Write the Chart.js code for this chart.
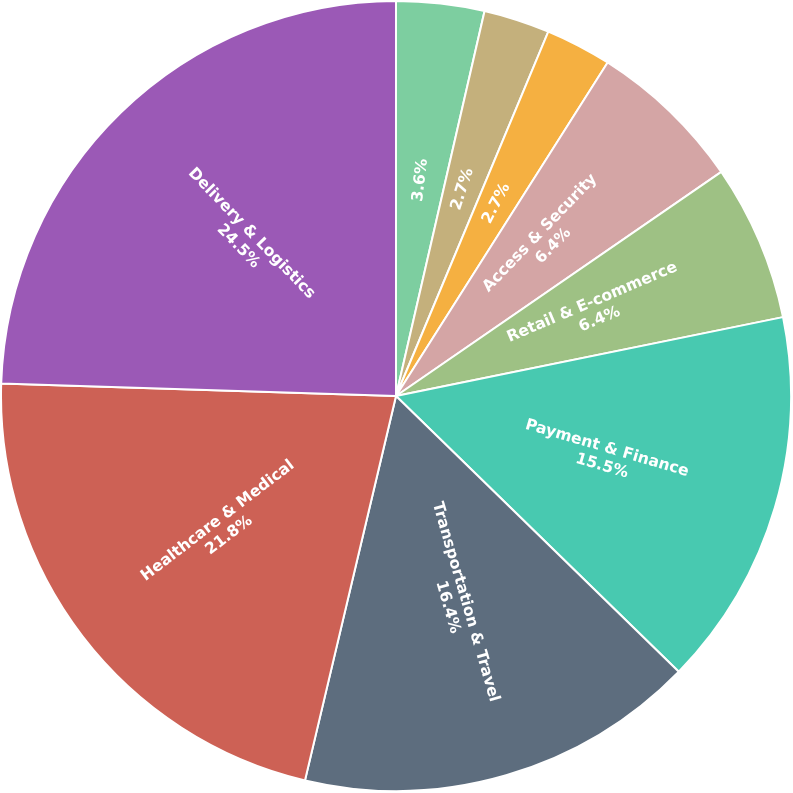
<!DOCTYPE html>
<html>
<head>
<meta charset="utf-8">
<script src="https://cdn.jsdelivr.net/npm/chart.js@4/dist/chart.umd.min.js"></script>
<style>
    html, body { margin: 0; padding: 0; background: #ffffff; }
    #wrap { width: 793px; height: 793px; }
</style>
</head>
<body>
<div id="wrap"><canvas id="pieChart" width="793" height="793"></canvas></div>
<script>
// slices clockwise from 12 o'clock; the three smallest show only the percentage
const categories = ["", "", "", "Access & Security", "Retail & E-commerce",
    "Payment & Finance", "Transportation & Travel", "Healthcare & Medical", "Delivery & Logistics"];
const shares = [3.6, 2.7, 2.7, 6.4, 6.4, 15.5, 16.4, 21.8, 24.5];
const colors = ["#7dcea0", "#c4b07c", "#f5b041", "#d4a5a5", "#9ec184",
    "#48c9b0", "#5d6d7e", "#cd6155", "#9b59b6"];


// rotated labels along each slice's radius, flipped so they never read upside down
const sliceLabels = {
    id: "sliceLabels",
    afterDatasetsDraw(chart) {
        const ctx = chart.ctx;
        const meta = chart.getDatasetMeta(0);

        meta.data.forEach((arc, i) => {
            const mid = (arc.startAngle + arc.endAngle) / 2;
            const dist = arc.outerRadius * 0.55;
            const x = arc.x + Math.cos(mid) * dist;
            const y = arc.y + Math.sin(mid) * dist;

            let rot = mid;
            if (Math.cos(rot) < 0) rot += Math.PI;

            const lines = [];
            if (categories[i]) lines.push(categories[i]);
            lines.push(shares[i].toFixed(1) + "%");

            ctx.save();
            ctx.translate(x, y);
            ctx.rotate(rot);
            ctx.fillStyle = "#ffffff";
            ctx.font = "bold 15.6px 'DejaVu Sans'";
            ctx.textAlign = "center";
            ctx.textBaseline = "middle";
            const lh = 18.5;
            const top = -(lines.length - 1) * lh / 2;
            lines.forEach((t, k) => ctx.fillText(t, 0, top + k * lh));
            ctx.restore();
        });
    }
};


const ctx = document.getElementById("pieChart").getContext("2d");

new Chart(ctx, {
    type: "pie",
    data: {
        labels: categories,
        datasets: [{
            data: shares,
            backgroundColor: colors,
            borderColor: "#ffffff",
            borderWidth: 2
        }]
    },
    options: {
        responsive: false,
        animation: false,
        events: [],
        layout: { padding: { left: 0, right: 1, top: 0, bottom: 1 } },
        plugins: {
            legend: { display: false },
            tooltip: { enabled: false }
        }
    },
    plugins: [sliceLabels]
});
</script>
</body>
</html>
